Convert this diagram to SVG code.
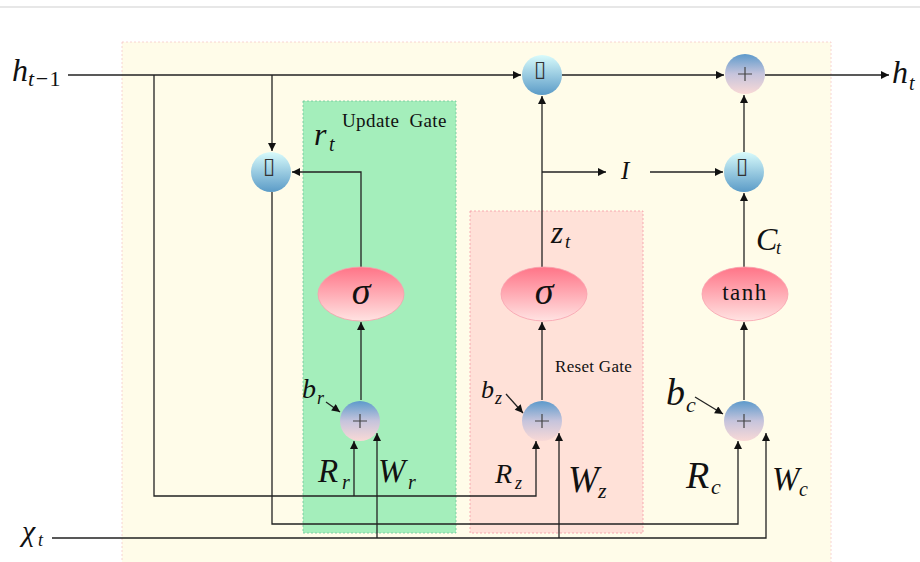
<svg xmlns="http://www.w3.org/2000/svg" width="920" height="562" viewBox="0 0 920 562">
<style>
.ln{fill:none;stroke:#222;stroke-width:1.3}
.arr{marker-end:url(#ah)}
.m{font-family:"Liberation Serif","DejaVu Serif",serif;font-style:italic;fill:#111}
.r{font-family:"Liberation Serif","DejaVu Serif",serif;fill:#111}
.sym{font-family:"DejaVu Sans",sans-serif;fill:#333;text-anchor:middle}
.plus{stroke:#444;stroke-width:1.2}
</style>
<defs>
<marker id="ah" viewBox="0 0 10 10" refX="10" refY="5" markerWidth="9" markerHeight="8" markerUnits="userSpaceOnUse" orient="auto"><path d="M0,0 L10,5 L0,10 z" fill="#111"/></marker>
<linearGradient id="mulG" x1="0" y1="0" x2="0" y2="1"><stop offset="0" stop-color="#d8fbfb"/><stop offset="1" stop-color="#5b9bc7"/></linearGradient>
<linearGradient id="addG" x1="0" y1="0" x2="0" y2="1"><stop offset="0" stop-color="#5d9acb"/><stop offset="0.5" stop-color="#c6c4dc"/><stop offset="1" stop-color="#f9d9d6"/></linearGradient>
<linearGradient id="sigG" x1="0" y1="0" x2="0" y2="1"><stop offset="0" stop-color="#ff7487"/><stop offset="1" stop-color="#ffe3e2"/></linearGradient>
</defs>
<rect width="920" height="562" fill="#fff"/>
<line x1="0" y1="7" x2="920" y2="7" stroke="#cfcfcf" stroke-width="1.2"/>
<g id="background">
<rect x="122" y="42" width="709" height="530" fill="#fffce9" stroke="#f6c9c9" stroke-dasharray="2,2" stroke-width="0.8"/>
</g>
<g id="update-gate-box">
<rect x="303" y="101" width="153" height="432" fill="#a4eebb" stroke="#6fc79a" stroke-dasharray="2,2" stroke-width="0.8"/>
<text class="r" x="342" y="127" font-size="19" word-spacing="5" letter-spacing="0.4">Update Gate</text>
</g>
<g id="reset-gate-box">
<rect x="470" y="211" width="173" height="322" fill="#ffe1d8" stroke="#f59aa6" stroke-dasharray="2,2" stroke-width="0.8"/>
<text class="r" x="555" y="372" font-size="17" letter-spacing="0.3">Reset Gate</text>
</g>
<g id="connectors">
<path class="ln arr" d="M68,75 H521"/>
<path class="ln arr" d="M562,75 H724"/>
<path class="ln arr" d="M765,75 H889"/>
<path class="ln arr" d="M154,75 V496 H536 V441"/>
<path class="ln arr" d="M354,496 V441"/>
<path class="ln arr" d="M272,75 V151"/>
<path class="ln arr" d="M272,192 V524 H738 V441"/>
<path class="ln arr" d="M52,538 H766 V433"/>
<path class="ln arr" d="M377,538 V433"/>
<path class="ln arr" d="M559,538 V433"/>
<path class="ln arr" d="M361,267 V172 H292"/>
<path class="ln arr" d="M361,400 V322"/>
<path class="ln arr" d="M542,400 V322"/>
<path class="ln arr" d="M542,267 V96"/>
<path class="ln arr" d="M542,172 H606"/>
<path class="ln arr" d="M650,172 H723"/>
<path class="ln arr" d="M744,400 V322"/>
<path class="ln arr" d="M744,267 V193"/>
<path class="ln arr" d="M744,152 V95"/>
<path class="ln arr" d="M326,402 L340,412"/>
<path class="ln arr" d="M506,394 L523,413"/>
<path class="ln arr" d="M695,397 L723,414"/>
</g>
<g id="mul-top">
<circle cx="542" cy="75" r="20" fill="url(#mulG)"/>
<text class="sym" x="540" y="76" font-size="22">▯</text>
</g>
<g id="mul-reset">
<circle cx="271" cy="172" r="20" fill="url(#mulG)"/>
<text class="sym" x="269" y="173" font-size="22">▯</text>
</g>
<g id="mul-cand">
<circle cx="744" cy="172" r="20" fill="url(#mulG)"/>
<text class="sym" x="742" y="173" font-size="22">▯</text>
</g>
<g id="add-out">
<circle cx="745" cy="74" r="20" fill="url(#addG)"/>
<path class="plus" d="M738,74 H752 M745,67 V81"/>
</g>
<g id="add-r">
<circle cx="360" cy="421" r="20" fill="url(#addG)"/>
<path class="plus" d="M353,421 H367 M360,414 V428"/>
</g>
<g id="add-z">
<circle cx="542" cy="421" r="20" fill="url(#addG)"/>
<path class="plus" d="M535,421 H549 M542,414 V428"/>
</g>
<g id="add-c">
<circle cx="744" cy="421" r="20" fill="url(#addG)"/>
<path class="plus" d="M737,421 H751 M744,414 V428"/>
</g>
<g id="sigma-r">
<ellipse cx="361" cy="294" rx="43" ry="27" fill="url(#sigG)" stroke="#f7a0ad" stroke-width="0.8"/>
<text class="m" x="361" y="304" font-size="38" text-anchor="middle">σ</text>
</g>
<g id="sigma-z">
<ellipse cx="544" cy="294" rx="43" ry="27" fill="url(#sigG)" stroke="#f7a0ad" stroke-width="0.8"/>
<text class="m" x="544" y="304" font-size="38" text-anchor="middle">σ</text>
</g>
<g id="tanh">
<ellipse cx="745" cy="294" rx="43" ry="27" fill="url(#sigG)" stroke="#f7a0ad" stroke-width="0.8"/>
<text class="r" x="745" y="300" font-size="23" letter-spacing="1.5" text-anchor="middle">tanh</text>
</g>
<g id="labels">
<text class="m" x="12" y="81" font-size="32">h</text>
<text class="m" x="28" y="86" font-size="22" letter-spacing="1.5">t<tspan font-style="normal">−1</tspan></text>
<text class="m" x="892" y="83" font-size="32">h</text>
<text class="m" x="909" y="90" font-size="20">t</text>
<text class="m" x="314" y="145" font-size="32">r</text>
<text class="m" x="329" y="151" font-size="20">t</text>
<text class="m" x="551" y="243" font-size="31">z</text>
<text class="m" x="565" y="248" font-size="19">t</text>
<text class="m" x="756" y="250" font-size="32">C</text>
<text class="m" x="776" y="254" font-size="18">t</text>
<text class="m" x="621" y="179" font-size="25">I</text>
<text class="m" x="302" y="398" font-size="28">b</text>
<text class="m" x="317" y="404" font-size="18">r</text>
<text class="m" x="481" y="398" font-size="26">b</text>
<text class="m" x="495" y="404" font-size="18">z</text>
<text class="m" x="666" y="405" font-size="38">b</text>
<text class="m" x="686" y="412" font-size="22">c</text>
<text class="m" x="318" y="482" font-size="33">R</text>
<text class="m" x="342" y="489" font-size="20">r</text>
<text class="m" x="378" y="482" font-size="33">W</text>
<text class="m" x="408" y="489" font-size="20">r</text>
<text class="m" x="495" y="483" font-size="28">R</text>
<text class="m" x="515" y="489" font-size="18">z</text>
<text class="m" x="568" y="492" font-size="37">W</text>
<text class="m" x="598" y="498" font-size="22">z</text>
<text class="m" x="686" y="488" font-size="38">R</text>
<text class="m" x="711" y="494" font-size="22">c</text>
<text class="m" x="772" y="490" font-size="33">W</text>
<text class="m" x="799" y="496" font-size="20">c</text>
<text class="m" x="22" y="541" font-size="30">χ</text>
<text class="m" x="38" y="546" font-size="18">t</text>
</g>
</svg>
